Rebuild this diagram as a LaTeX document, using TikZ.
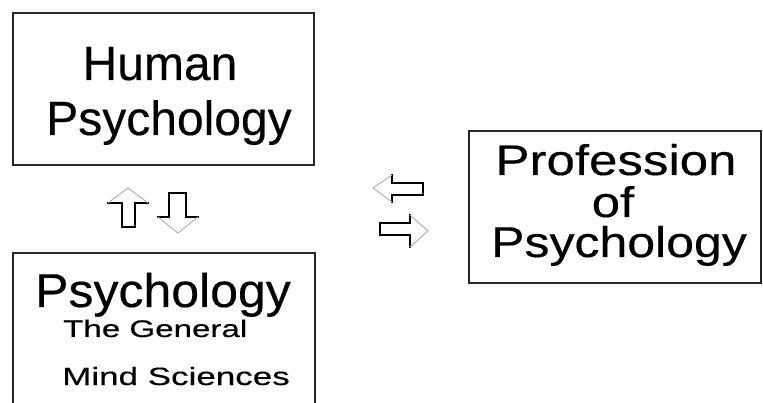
\documentclass[tikz,border=0pt]{standalone}
\usepackage{fontspec}
\setmainfont{Liberation Sans}[FakeBold=0.3]
\begin{document}
\begin{tikzpicture}[x=1pt,y=-1pt,
  box/.style={draw=black!85,line width=2pt,inner sep=0pt},
  txt/.style={anchor=base,inner sep=0pt},
  edge/.style={line width=2.4pt,line join=miter,line cap=rect},
  slant/.style={draw=black!30,line width=1pt}]
\useasboundingbox (0,0) rectangle (763,403);
\clip (0,0) rectangle (763,403);
% frames
\node[box,minimum width=301pt,minimum height=152pt] (human) at (163.5,89) {};
\node[box,minimum width=302pt,minimum height=164pt] (general) at (164,335) {};
\node[box,minimum width=292pt,minimum height=152pt] (prof) at (615,207) {};
% labels
\node[txt] (h1) at (160,80) {\fontsize{48}{48}\selectfont Human};
\node[txt] (h2) at (169,135) {\fontsize{48}{48}\selectfont Psychology};
\node[txt] (g1) at (163,307) {\fontsize{50}{50}\selectfont\scalebox{1}[0.95]{Psychology}};
\node[txt,anchor=base west] (g2) at (63,337) {\fontsize{24}{24}\selectfont\scalebox{1.38}[1]{The General}};
\node[txt,anchor=base west] (g3) at (62,385) {\fontsize{25}{25}\selectfont\scalebox{1.4}[1]{Mind Sciences}};
\node[txt] (p1) at (616,175) {\fontsize{51}{51}\selectfont\scalebox{1}[0.84]{Profession}};
\node[txt] (p2) at (613,217) {\fontsize{51}{51}\selectfont\scalebox{1}[0.84]{of}};
\node[txt] (p3) at (619,257) {\fontsize{50}{50}\selectfont\scalebox{1}[0.86]{Psychology}};
% up arrow
\draw[edge] (148,203)--(135,203)--(135,227)--(122,227)--(122,203)--(108,203);
\draw[slant] (108,203)--(128,188)--(148,203);
% down arrow
\draw[edge] (158,217)--(169,217)--(169,193)--(186,193)--(186,217)--(198,217);
\draw[slant] (158,217)--(178,233)--(198,217);
% left arrow
\draw[edge] (392,175)--(392,183)--(423,183)--(423,195)--(392,195)--(392,202);
\draw[slant] (392,175)--(373,188)--(392,202);
% right arrow
\draw[edge] (410,215)--(410,223)--(380,223)--(380,235)--(410,235)--(410,247);
\draw[slant] (410,215)--(428,231)--(410,247);
\end{tikzpicture}
\end{document}
